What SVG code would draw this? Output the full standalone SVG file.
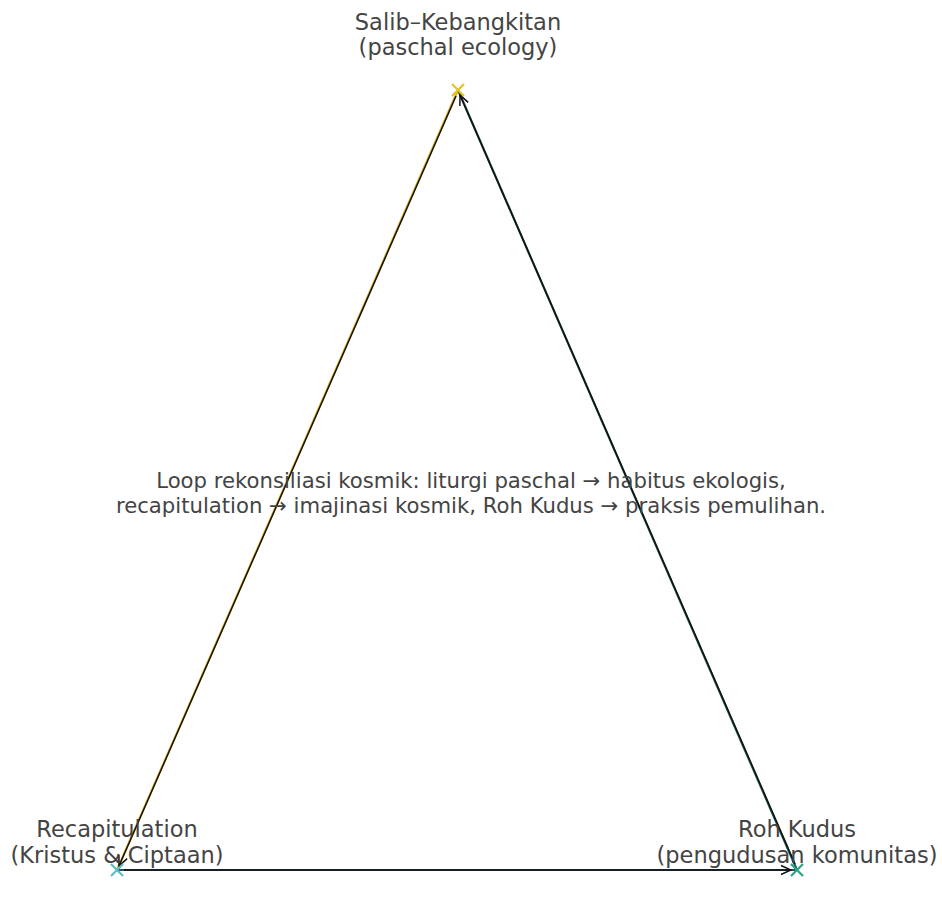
<svg xmlns="http://www.w3.org/2000/svg" width="942" height="906" viewBox="0 0 942 906">
<defs>
<style>
.lbl{font-family:"DejaVu Sans",sans-serif;font-size:22.5px;fill:#444;text-anchor:middle}
.mid{font-family:"DejaVu Sans",sans-serif;font-size:21.2px;fill:#444;text-anchor:middle}
.arr{stroke:#111;stroke-width:1.5;fill:none;marker-end:url(#ah)}
.mk{stroke-width:2.2;fill:none}
</style>
<marker id="ah" viewBox="0 0 12 12" refX="11" refY="6" markerWidth="12" markerHeight="12" markerUnits="userSpaceOnUse" orient="auto">
<path d="M1,1.5 L11,6 L1,10.5" fill="none" stroke="#111" stroke-width="1.5"/>
</marker>
</defs>
<rect width="942" height="906" fill="#fff"/>
<g id="connectors">
<line x1="117" y1="870" x2="458" y2="90" stroke="#e2b21a" stroke-width="2.2"/>
<line x1="458" y1="90" x2="797" y2="870" stroke="#1e5a52" stroke-width="2.2"/>
<line x1="117" y1="870" x2="797" y2="870" stroke="#2a4d6e" stroke-width="2.2"/>
<line class="arr" x1="456" y1="96" x2="119" y2="866"/>
<line class="arr" x1="795" y1="864" x2="460" y2="95"/>
<line class="arr" x1="124" y1="870" x2="791" y2="870"/>
</g>
<g id="node-top">
<path class="mk" stroke="#e6c229" d="M452,84 L464,96 M464,84 L452,96"/>
<text class="lbl" x="458" y="30">Salib–Kebangkitan</text>
<text class="lbl" x="458" y="55">(paschal ecology)</text>
</g>
<g id="node-left">
<path class="mk" stroke="#5bbdc3" d="M111,864 L123,876 M123,864 L111,876"/>
<text class="lbl" x="117" y="837">Recapitulation</text>
<text class="lbl" x="117" y="863">(Kristus &amp; Ciptaan)</text>
</g>
<g id="node-right">
<path class="mk" stroke="#2aa587" d="M791,864 L803,876 M803,864 L791,876"/>
<text class="lbl" x="797" y="837">Roh Kudus</text>
<text class="lbl" x="797" y="863">(pengudusan komunitas)</text>
</g>
<g id="center-note">
<text class="mid" x="471" y="488">Loop rekonsiliasi kosmik: liturgi paschal → habitus ekologis,</text>
<text class="mid" x="471" y="513">recapitulation → imajinasi kosmik, Roh Kudus → praksis pemulihan.</text>
</g>
</svg>
